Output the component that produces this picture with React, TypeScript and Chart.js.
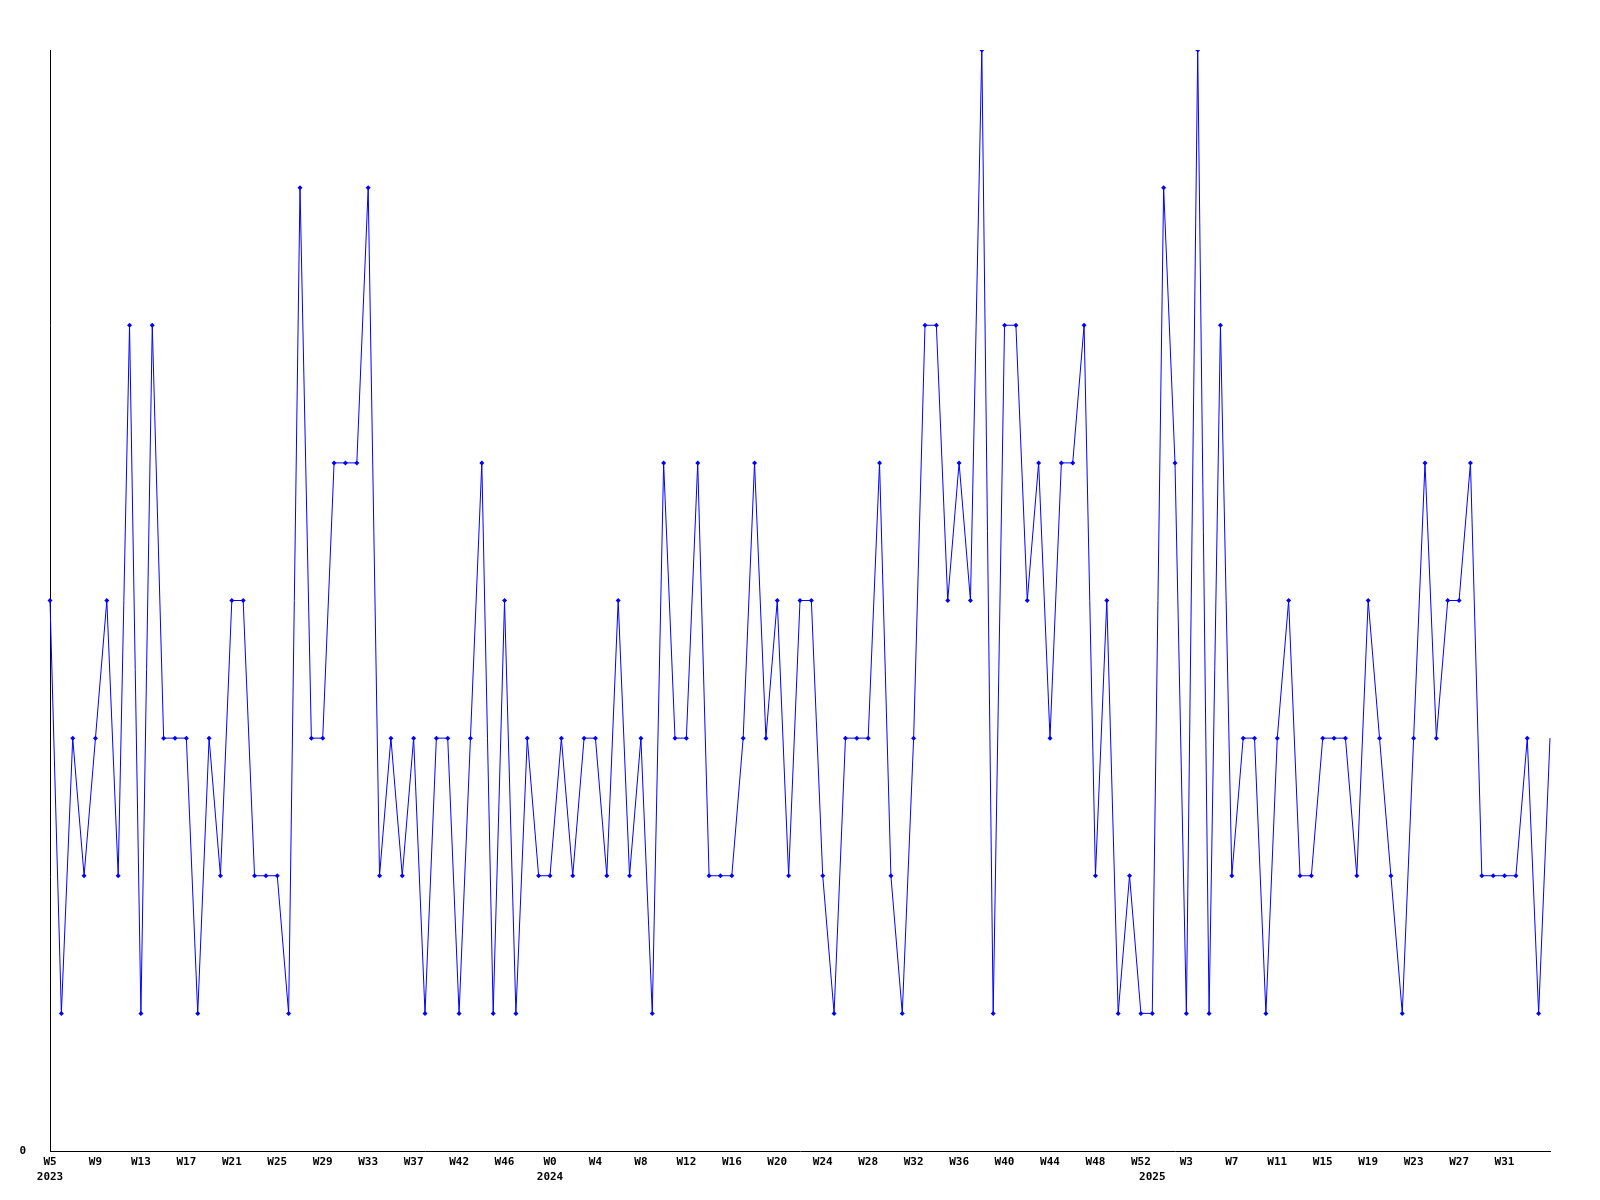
import React, { useEffect, useRef } from "react";
import { Chart, registerables } from "chart.js";

Chart.register(...registerables);

// Weekly values, W5 2023 .. W35 2025
const values = [
  4, 1, 3, 2, 3, 4, 2, 6, 1, 6, 3, 3, 3, 1, 3, 2, 4, 4, 2, 2,
  2, 1, 7, 3, 3, 5, 5, 5, 7, 2, 3, 2, 3, 1, 3, 3, 1, 3, 5, 1,
  4, 1, 3, 2, 2, 3, 2, 3, 3, 2, 4, 2, 3, 1, 5, 3, 3, 5, 2, 2,
  2, 3, 5, 3, 4, 2, 4, 4, 2, 1, 3, 3, 3, 5, 2, 1, 3, 6, 6, 4,
  5, 4, 8, 1, 6, 6, 4, 5, 3, 5, 5, 6, 2, 4, 1, 2, 1, 1, 7, 5,
  1, 8, 1, 6, 2, 3, 3, 1, 3, 4, 2, 2, 3, 3, 3, 2, 4, 3, 2, 1,
  3, 5, 3, 4, 4, 5, 2, 2, 2, 2, 3, 1, 3,
];

// Week tick labels, one every 4th point
const tickLabels = [
  "W5", "W9", "W13", "W17", "W21", "W25", "W29", "W33", "W37", "W42", "W46",
  "W0", "W4", "W8", "W12", "W16", "W20", "W24", "W28", "W32", "W36", "W40", "W44", "W48", "W52",
  "W3", "W7", "W11", "W15", "W19", "W23", "W27", "W31",
];
const tickEvery = 4;

// Year labels and the point index where each year starts
const yearLabels = ["2023", "2024", "2025"];
const yearStartIndex = [0, 44, 97];

const yMin = 0;
const yMax = 8;

function buildCategories(): (string | string[])[] {
  return values.map((_, i) => {
    const week = i % tickEvery === 0 ? tickLabels[i / tickEvery] ?? "" : "";
    const yi = yearStartIndex.indexOf(i);
    if (yi >= 0) return [week, yearLabels[yi]];
    return week;
  });
}

const FONT = {
  family: "'DejaVu Sans Mono', monospace",
  size: 11,
  weight: "bold" as const,
  lineHeight: 1.35,
};

export default function App() {
  const canvasRef = useRef<HTMLCanvasElement | null>(null);

  useEffect(() => {
    if (!canvasRef.current) return;
    const categories = buildCategories();
    const chart = new Chart(canvasRef.current, {
      type: "line",
      data: {
        labels: categories,
        datasets: [
          {
            data: values,
            borderColor: "#0000ff",
            backgroundColor: "#0000ff",
            borderWidth: 1,
            tension: 0,
            fill: false,
            pointStyle: "rectRot",
            pointRadius: values.map((_, i) => (i === values.length - 1 ? 0 : 2.5)),
            pointBorderWidth: 0,
            pointBackgroundColor: "#0000ff",
          },
        ],
      },
      options: {
        animation: false,
        responsive: false,
        maintainAspectRatio: false,
        layout: { padding: { top: 50, right: 50, left: 0, bottom: 0 } },
        plugins: {
          legend: { display: false },
          tooltip: { enabled: false },
        },
        scales: {
          x: {
            type: "category",
            offset: false,
            grid: { display: false, drawTicks: false },
            border: { display: true, color: "#000000", width: 1 },
            ticks: {
              autoSkip: false,
              maxRotation: 0,
              minRotation: 0,
              padding: 4,
              color: "#000000",
              font: FONT,
            },
            afterFit: (scale: any) => {
              scale.height = 49;
            },
          },
          y: {
            min: yMin,
            max: yMax,
            grid: { display: false, drawTicks: false },
            border: { display: true, color: "#000000", width: 1 },
            ticks: {
              stepSize: yMax - yMin,
              padding: 24,
              color: "#000000",
              font: FONT,
              callback: (v: any) => (Number(v) === 0 ? "0" : ""),
            },
            afterFit: (scale: any) => {
              scale.width = 50;
            },
          },
        },
      },
    });
    return () => chart.destroy();
  }, []);

  return (
    <div
      style={{
        position: "absolute",
        left: 0,
        top: 0,
        width: 1600,
        height: 1200,
        background: "#ffffff",
      }}
    >
      <canvas ref={canvasRef} width={1600} height={1200} style={{ width: 1600, height: 1200 }} />
    </div>
  );
}
